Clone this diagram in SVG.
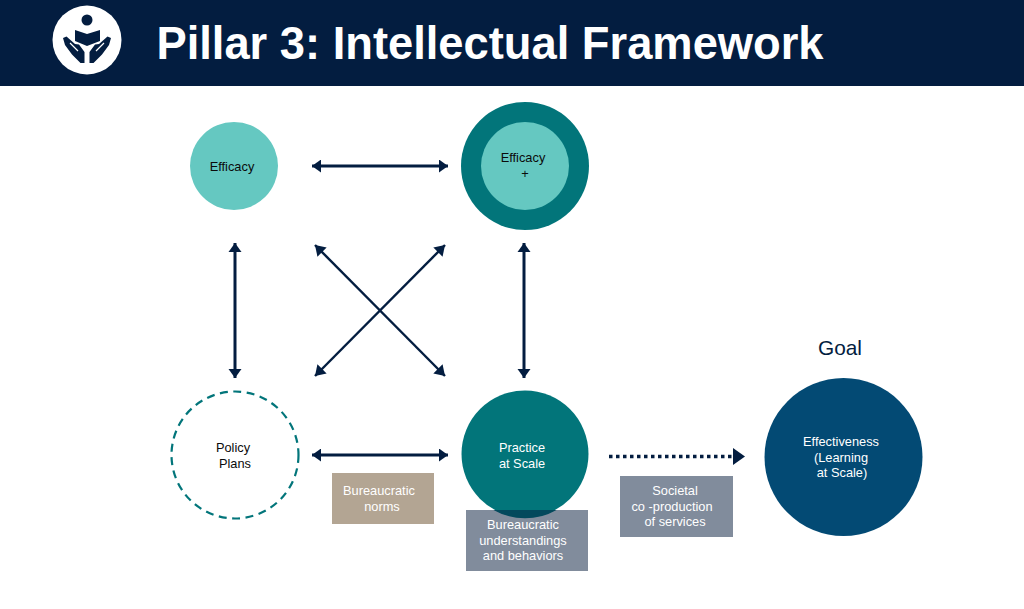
<svg xmlns="http://www.w3.org/2000/svg" width="1024" height="609" viewBox="0 0 1024 609">
<style>
text{font-family:"Liberation Sans",Arial,sans-serif;font-size:12.8px;text-anchor:middle}
.w{fill:#fff}.k{fill:#0b0b0b}
.c{stroke:#031d40;stroke-width:3;fill:none;marker-start:url(#as);marker-end:url(#ae)}
.t{stroke:#031d40;stroke-width:2.4;fill:none;marker-start:url(#as2);marker-end:url(#ae2)}
</style>
<defs>
<marker id="ae" markerUnits="userSpaceOnUse" markerWidth="10" markerHeight="14" refX="9" refY="6.5" orient="auto"><path d="M0 0L9 6.5L0 13Z" fill="#031d40"/></marker>
<marker id="as" markerUnits="userSpaceOnUse" markerWidth="10" markerHeight="14" refX="0" refY="6.5" orient="auto"><path d="M9 0L0 6.5L9 13Z" fill="#031d40"/></marker>
<marker id="ae2" markerUnits="userSpaceOnUse" markerWidth="11" markerHeight="14" refX="10" refY="6.5" orient="auto"><path d="M0 0L10 6.5L0 13Z" fill="#031d40"/></marker>
<marker id="as2" markerUnits="userSpaceOnUse" markerWidth="11" markerHeight="14" refX="0" refY="6.5" orient="auto"><path d="M10 0L0 6.5L10 13Z" fill="#031d40"/></marker>
</defs>
<rect width="1024" height="609" fill="#fff"/>
<g id="header">
<rect width="1024" height="86" fill="#031d40"/>
<circle cx="87" cy="40" r="34.500" fill="#fff"/>
<circle cx="87" cy="20" r="5.500" fill="#031d40"/>
<path d="M75 30L87 34L100 30V41L87 46L75 41Z" fill="#031d40"/>
<path d="M63 38L66.500 36.500L75 44L79 44.500L84.500 52V63H80.500L72 54.500L65 45ZM111 38L107.500 36.500L99 44L95 44.500L89.500 52V63H93.500L102 54.500L109 45Z" fill="#031d40"/>
<path d="M70 43L78 51M104 43L96 51" stroke="#fff" stroke-width="1.200" fill="none"/>
<text x="490" y="59" style="font-size:45.300px;font-weight:700;fill:#fff">Pillar 3: Intellectual Framework</text>
</g>
<g id="connectors">
<path class="c" d="M312 166H448"/>
<path class="c" d="M235 243V378"/>
<path class="c" d="M524 243V378"/>
<path class="c" d="M312 455H448"/>
<path class="t" d="M315 245L445 376"/>
<path class="t" d="M445 245L315 376"/>
<path d="M609 456.500H733" stroke="#031d40" stroke-width="3.500" stroke-dasharray="3.500 3.500" fill="none"/>
<path d="M733 448L745 456.500L733 465Z" fill="#031d40"/>
</g>
<g id="efficacy"><circle cx="234" cy="166" r="44" fill="#65c8c1"/><text class="k" x="232" y="171">Efficacy</text></g>
<g id="efficacy-plus"><circle cx="525" cy="166" r="64" fill="#02757a"/><circle cx="525" cy="166" r="44" fill="#65c8c1"/><text class="k" x="523" y="162">Efficacy</text><text class="k" x="525" y="178">+</text></g>
<g id="policy-plans"><circle cx="235" cy="455" r="63.500" fill="#fff" stroke="#02757a" stroke-width="2.200" stroke-dasharray="8 5.500"/><text class="k" x="233" y="452">Policy</text><text class="k" x="235" y="468">Plans</text></g>
<g id="understandings"><rect x="466" y="510" width="122" height="61" fill="#818c9c"/></g>
<g id="practice"><circle cx="525" cy="454" r="63.500" fill="#02757a"/><path d="M493.500 510H556.500A63.500 63.500 0 0 1 493.500 510Z" fill="#03495c"/><text class="w" x="522" y="452">Practice</text><text class="w" x="522" y="468">at Scale</text></g>
<g id="understandings-label"><text class="w" x="523" y="529">Bureaucratic</text><text class="w" x="523" y="545">understandings</text><text class="w" x="523" y="560">and behaviors</text></g>
<g id="norms"><rect x="332" y="473" width="102" height="51" fill="#b3a593"/><text class="w" x="379" y="495">Bureaucratic</text><text class="w" x="382" y="511">norms</text></g>
<g id="societal"><rect x="620" y="476" width="113" height="61" fill="#818c9c"/><text class="w" x="675" y="495">Societal</text><text class="w" x="672" y="511">co -production</text><text class="w" x="675" y="526">of services</text></g>
<g id="goal"><text x="840" y="355" style="font-size:20.800px;fill:#031d40">Goal</text></g>
<g id="effectiveness"><circle cx="843.500" cy="457" r="79" fill="#034a74"/><text class="w" x="841" y="446">Effectiveness</text><text class="w" x="841" y="462">(Learning</text><text class="w" x="842" y="477">at Scale)</text></g>
</svg>
